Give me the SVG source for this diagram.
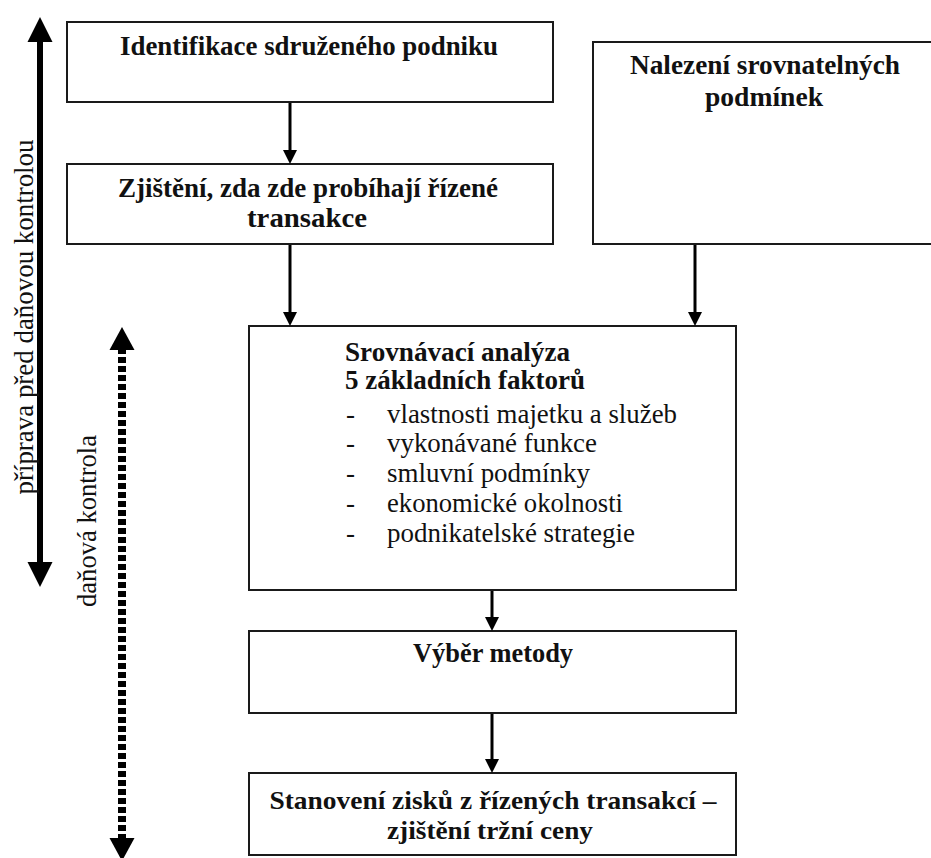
<svg xmlns="http://www.w3.org/2000/svg" width="931" height="858" viewBox="0 0 931 858">
<style>
.box{fill:#fff;stroke:#1a1a1a;stroke-width:2}
.b{font-family:"Liberation Serif","Times New Roman",serif;font-weight:bold;font-size:27px;fill:#111}
.r{font-family:"Liberation Serif","Times New Roman",serif;font-size:27px;fill:#111}
.s{font-size:25px}
.c{text-anchor:middle}
.ln{stroke:#000;stroke-width:3;fill:none}
.hd{fill:#000}
</style>
<rect width="931" height="858" fill="#fff"/>
<g id="side">
  <line x1="40" y1="40" x2="40" y2="564" stroke="#000" stroke-width="6"/>
  <polygon points="40,17 27.5,42 52.5,42" fill="#000"/>
  <polygon points="40,587 27.5,562 52.5,562" fill="#000"/>
  <text class="r c" transform="translate(33,317) rotate(-90)" textLength="355" lengthAdjust="spacingAndGlyphs">příprava před daňovou kontrolou</text>
  <line x1="122" y1="348" x2="122" y2="840" stroke="#000" stroke-width="8" stroke-dasharray="6 3"/>
  <polygon points="122,327 109.5,350 134.5,350" fill="#000"/>
  <polygon points="122,861 109.5,838 134.5,838" fill="#000"/>
  <text class="r c" transform="translate(96,521) rotate(-90)" textLength="172" lengthAdjust="spacingAndGlyphs">daňová kontrola</text>
</g>
<g id="n1">
  <rect class="box" x="67" y="22" width="486" height="80"/>
  <text class="b c" x="309" y="55" textLength="378" lengthAdjust="spacingAndGlyphs">Identifikace sdruženého podniku</text>
</g>
<g id="n2">
  <rect class="box" x="67" y="164" width="486" height="80"/>
  <text class="b c" x="308" y="197" textLength="380" lengthAdjust="spacingAndGlyphs">Zjištění, zda zde probíhají řízené</text>
  <text class="b c" x="307" y="227" textLength="120" lengthAdjust="spacingAndGlyphs">transakce</text>
</g>
<g id="n3">
  <rect class="box" x="593" y="42" width="340" height="202"/>
  <text class="b c" x="765" y="74" textLength="270" lengthAdjust="spacingAndGlyphs">Nalezení srovnatelných</text>
  <text class="b c" x="764" y="106" textLength="118" lengthAdjust="spacingAndGlyphs">podmínek</text>
</g>
<g id="n4">
  <rect class="box" x="249" y="326" width="487" height="264"/>
  <text class="b" x="345" y="361" textLength="225" lengthAdjust="spacingAndGlyphs">Srovnávací analýza</text>
  <text class="b" x="345" y="389" textLength="240" lengthAdjust="spacingAndGlyphs">5 základních faktorů</text>
  <text class="r" x="346" y="423">-</text>
  <text class="r" x="387" y="423" textLength="290" lengthAdjust="spacingAndGlyphs">vlastnosti majetku a služeb</text>
  <text class="r" x="346" y="452">-</text>
  <text class="r" x="387" y="452" textLength="210" lengthAdjust="spacingAndGlyphs">vykonávané funkce</text>
  <text class="r" x="346" y="482">-</text>
  <text class="r" x="387" y="482" textLength="203" lengthAdjust="spacingAndGlyphs">smluvní podmínky</text>
  <text class="r" x="346" y="512">-</text>
  <text class="r" x="387" y="512" textLength="236" lengthAdjust="spacingAndGlyphs">ekonomické okolnosti</text>
  <text class="r" x="346" y="542">-</text>
  <text class="r" x="387" y="542" textLength="248" lengthAdjust="spacingAndGlyphs">podnikatelské strategie</text>
</g>
<g id="n5">
  <rect class="box" x="249" y="631" width="487" height="82"/>
  <text class="b c" x="493" y="662" textLength="160" lengthAdjust="spacingAndGlyphs">Výběr metody</text>
</g>
<g id="n6">
  <rect class="box" x="249" y="773" width="487" height="82"/>
  <text class="b c s" x="493" y="809" textLength="447" lengthAdjust="spacingAndGlyphs">Stanovení zisků z řízených transakcí –</text>
  <text class="b c s" x="490" y="839" textLength="206" lengthAdjust="spacingAndGlyphs">zjištění tržní ceny</text>
</g>
<g id="connectors">
  <line class="ln" x1="290" y1="103" x2="290" y2="152"/>
  <polygon class="hd" points="290,164 283,150 297,150"/>
  <line class="ln" x1="290" y1="245" x2="290" y2="314"/>
  <polygon class="hd" points="290,326 283,312 297,312"/>
  <line class="ln" x1="695" y1="245" x2="695" y2="314"/>
  <polygon class="hd" points="695,326 688,312 702,312"/>
  <line class="ln" x1="492" y1="591" x2="492" y2="619"/>
  <polygon class="hd" points="492,631 485,617 499,617"/>
  <line class="ln" x1="492" y1="714" x2="492" y2="761"/>
  <polygon class="hd" points="492,773 485,759 499,759"/>
</g>
</svg>
